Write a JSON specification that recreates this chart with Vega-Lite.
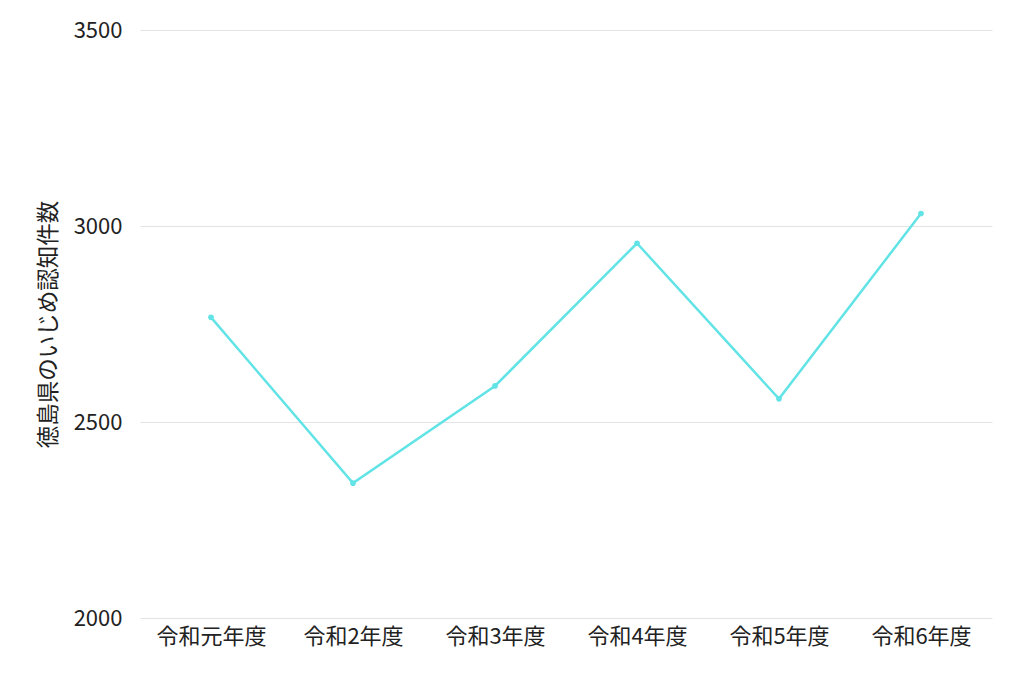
{
  "$schema": "https://vega.github.io/schema/vega-lite/v6.json",
  "description": "徳島県のいじめ認知件数",
  "autosize": "none",
  "padding": {"left": 140, "top": 30, "right": 32, "bottom": 65},
  "width": 852,
  "height": 588,
  "data": {
    "values": [
      {"year": "令和元年度", "count": 2767},
      {"year": "令和2年度", "count": 2344},
      {"year": "令和3年度", "count": 2592},
      {"year": "令和4年度", "count": 2956},
      {"year": "令和5年度", "count": 2559},
      {"year": "令和6年度", "count": 3032}
    ]
  },
  "mark": {"type": "line", "color": "#62e3e6", "strokeWidth": 2.5, "point": {"filled": true, "size": 32, "color": "#62e3e6"}},
  "encoding": {
    "x": {
      "field": "year",
      "type": "ordinal",
      "sort": null,
      "scale": {"type": "point", "padding": 0.5},
      "axis": {"title": null, "labelAngle": 0, "labelFontSize": 22, "labelPadding": 8, "ticks": false, "domain": false, "grid": false}
    },
    "y": {
      "field": "count",
      "type": "quantitative",
      "title": "徳島県のいじめ認知件数",
      "scale": {"domain": [2000, 3500], "nice": false, "zero": false},
      "axis": {"values": [2000, 2500, 3000, 3500], "format": "d", "labelFontSize": 22, "labelPadding": 18, "ticks": false, "domain": false, "titleFontSize": 22.5, "titleFontWeight": "normal", "titlePadding": 13, "gridColor": "#e3e3e3"}
    }
  },
  "config": {
    "font": "Noto Sans CJK JP",
    "view": {"stroke": null},
    "axis": {"labelColor": "#222222", "titleColor": "#222222", "labelFont": "Noto Sans CJK JP", "titleFont": "Noto Sans CJK JP"}
  }
}
